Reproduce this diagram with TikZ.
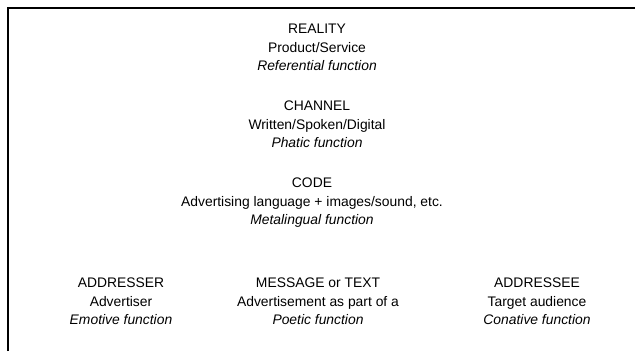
\documentclass[tikz,border=0pt]{standalone}
\usepackage{fontspec}
\setmainfont{Liberation Sans}
\begin{document}
\begin{tikzpicture}[x=0.75pt, y=-0.75pt, line width=1.1pt, every node/.style={inner sep=0pt, anchor=north, font=\fontsize{10.4}{13.9}\selectfont}]{
    \useasboundingbox (0,0) rectangle (635,351);
    \coordinate (corner) at (8,8);
    \coordinate (bottomleft) at (8,351);
    \coordinate (topright) at (635,8);
    \draw (bottomleft) -- (corner) -- (topright);

    \node (reality) at (317,20) {\begin{tabular}{c}REALITY\\Product/Service\\\textit{Referential function}\end{tabular}};
    \node (channel) at (317,97) {\begin{tabular}{c}CHANNEL\\Written/Spoken/Digital\\\textit{Phatic function}\end{tabular}};
    \node (code) at (312,174) {\begin{tabular}{c}CODE\\Advertising language + images/sound, etc.\\\textit{Metalingual function}\end{tabular}};
    \node (addresser) at (121,274) {\begin{tabular}{c}ADDRESSER\\Advertiser\\\textit{Emotive function}\end{tabular}};
    \node (message) at (318,274) {\begin{tabular}{c}MESSAGE or TEXT\\Advertisement as part of a\\\textit{Poetic function}\end{tabular}};
    \node (addressee) at (537,274) {\begin{tabular}{c}ADDRESSEE\\Target audience\\\textit{Conative function}\end{tabular}};
    }
\end{tikzpicture}
\end{document}
